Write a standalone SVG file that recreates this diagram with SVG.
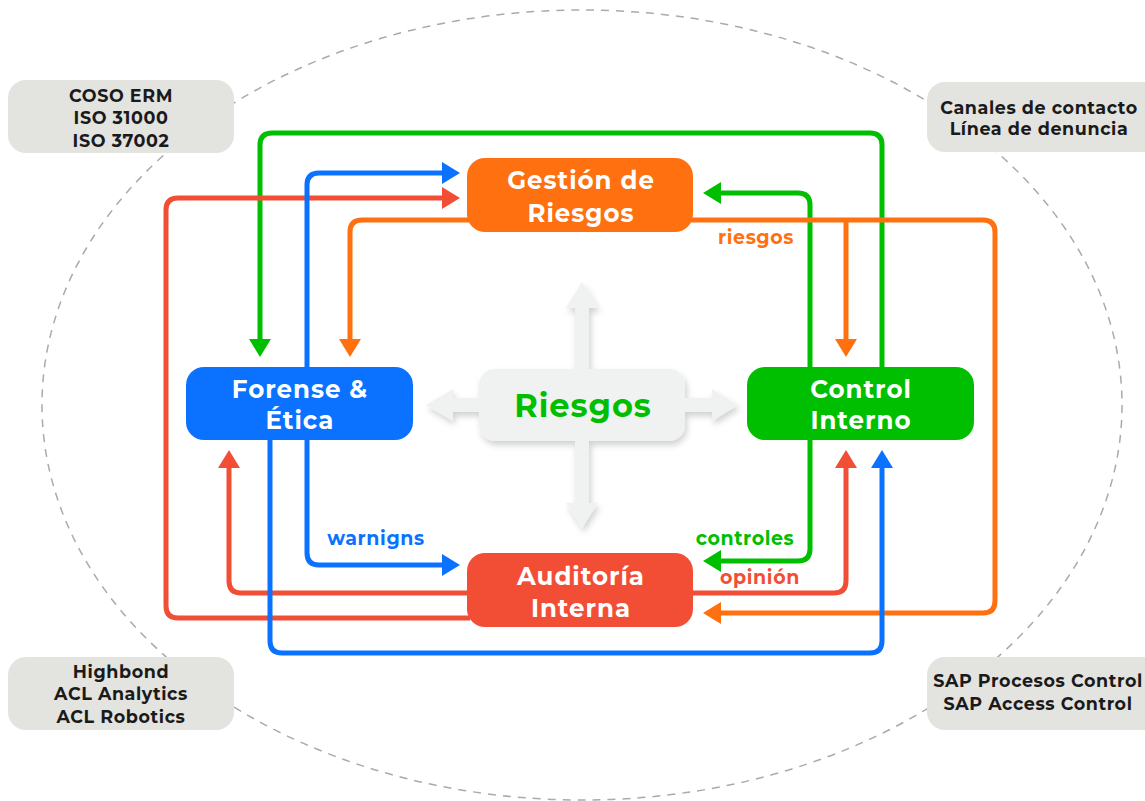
<svg xmlns="http://www.w3.org/2000/svg" width="1145" height="801" viewBox="0 0 1145 801">
<style>
.t{font-family:"Montserrat","Open Sans","Liberation Sans",sans-serif;font-weight:700;text-anchor:middle}
.nt{font-size:24.5px;fill:#fff;letter-spacing:1px}
.gt{font-size:17.5px;fill:#1a1a1a;letter-spacing:0.6px}
.lb{font-size:19px;letter-spacing:0.6px}
.gb{fill:#E3E3E0}
.c{fill:none;stroke-width:5;stroke-linejoin:round}
.g{stroke:#00BF00}.o{stroke:#FF7010}.r{stroke:#F24E36}.b{stroke:#0A72FF}
.ga{fill:#F0F1F1}
</style>
<defs>
<filter id="sh" x="-20%" y="-20%" width="140%" height="150%">
<feDropShadow dx="2" dy="4" stdDeviation="3" flood-color="#000" flood-opacity="0.18"/>
</filter>
<marker id="mg" markerUnits="userSpaceOnUse" markerWidth="20" markerHeight="24" refX="2" refY="11" orient="auto"><path d="M0,0 L18,11 L0,22 z" fill="#00BF00"/></marker>
<marker id="mo" markerUnits="userSpaceOnUse" markerWidth="20" markerHeight="24" refX="2" refY="11" orient="auto"><path d="M0,0 L18,11 L0,22 z" fill="#FF7010"/></marker>
<marker id="mr" markerUnits="userSpaceOnUse" markerWidth="20" markerHeight="24" refX="2" refY="11" orient="auto"><path d="M0,0 L18,11 L0,22 z" fill="#F24E36"/></marker>
<marker id="mb" markerUnits="userSpaceOnUse" markerWidth="20" markerHeight="24" refX="2" refY="11" orient="auto"><path d="M0,0 L18,11 L0,22 z" fill="#0A72FF"/></marker>
</defs>
<rect width="1145" height="801" fill="#fff"/>
<ellipse cx="582" cy="405" rx="540" ry="395" fill="none" stroke="#AAAAAA" stroke-width="1.5" stroke-dasharray="8 7"/>

<g id="tools">
<g id="coso"><rect class="gb" x="8" y="80" width="226" height="73" rx="18"/>
<text class="t gt" x="121" y="102">COSO ERM</text><text class="t gt" x="121" y="124">ISO 31000</text><text class="t gt" x="121" y="147">ISO 37002</text></g>
<g id="canales"><rect class="gb" x="927" y="82" width="240" height="70" rx="18"/>
<text class="t gt" x="1039" y="114">Canales de contacto</text><text class="t gt" x="1039" y="135">Línea de denuncia</text></g>
<g id="highbond"><rect class="gb" x="8" y="657" width="226" height="73" rx="18"/>
<text class="t gt" x="121" y="678">Highbond</text><text class="t gt" x="121" y="700">ACL Analytics</text><text class="t gt" x="121" y="723">ACL Robotics</text></g>
<g id="sap"><rect class="gb" x="927" y="657" width="240" height="73" rx="18"/>
<text class="t gt" x="1038" y="687">SAP Procesos Control</text><text class="t gt" x="1038" y="710">SAP Access Control</text></g>
</g>

<g id="connectors">
<path class="c g" d="M882,367 V145 Q882,133 870,133 H272 Q260,133 260,145 V341" marker-end="url(#mg)"/>
<path class="c g" d="M810,367 V205 Q810,193 798,193 H719" marker-end="url(#mg)"/>
<path class="c g" d="M810,440 V549 Q810,561 798,561 H719" marker-end="url(#mg)"/>
<path class="c o" d="M470,220 H362 Q350,220 350,232 V341" marker-end="url(#mo)"/>
<path class="c o" d="M690,220 H983 Q995,220 995,232 V601 Q995,613 983,613 H719" marker-end="url(#mo)"/>
<path class="c o" d="M846,220 V341" marker-end="url(#mo)"/>
<path class="c r" d="M470,618 H178 Q166,618 166,606 V210 Q166,198 178,198 H444" marker-end="url(#mr)"/>
<path class="c r" d="M470,593 H241 Q229,593 229,581 V466" marker-end="url(#mr)"/>
<path class="c r" d="M690,593 H834 Q846,593 846,581 V466" marker-end="url(#mr)"/>
<path class="c b" d="M307,367 V185 Q307,173 319,173 H444" marker-end="url(#mb)"/>
<path class="c b" d="M307,440 V553 Q307,565 319,565 H444" marker-end="url(#mb)"/>
<path class="c b" d="M270,440 V641 Q270,653 282,653 H870 Q882,653 882,641 V466" marker-end="url(#mb)"/>
<text class="t lb" x="756" y="244" fill="#FF7010">riesgos</text>
<text class="t lb" x="376" y="545" fill="#0A72FF">warnigns</text>
<text class="t lb" x="745" y="545" fill="#00BF00">controles</text>
<text class="t lb" x="760" y="584" fill="#F24E36">opinión</text>
</g>

<g id="riesgos" filter="url(#sh)">
<polygon class="ga" points="575,372 575,308 566,308 582,282 598,308 589,308 589,372"/>
<polygon class="ga" points="575,438 575,503 566,503 582,528 598,503 589,503 589,438"/>
<polygon class="ga" points="482,398 453,398 453,389 426,405 453,421 453,412 482,412"/>
<polygon class="ga" points="682,398 712,398 712,389 738,405 712,421 712,412 682,412"/>
<rect class="ga" x="479" y="369" width="206" height="72" rx="16"/>
</g>
<text class="t" x="583" y="417" font-size="32" letter-spacing="1" fill="#00BF00">Riesgos</text>

<g id="gestion"><rect x="467" y="158" width="226" height="74" rx="18" fill="#FF7010"/>
<text class="t nt" x="581" y="189">Gestión de</text><text class="t nt" x="581" y="222">Riesgos</text></g>
<g id="forense"><rect x="186" y="367" width="227" height="73" rx="18" fill="#0A72FF"/>
<text class="t nt" x="300" y="398">Forense &amp;</text><text class="t nt" x="300" y="429">Ética</text></g>
<g id="control"><rect x="747" y="367" width="227" height="73" rx="18" fill="#00BF00"/>
<text class="t nt" x="861" y="398">Control</text><text class="t nt" x="861" y="429">Interno</text></g>
<g id="auditoria"><rect x="467" y="553" width="226" height="74" rx="18" fill="#F24E36"/>
<text class="t nt" x="581" y="585">Auditoría</text><text class="t nt" x="581" y="617">Interna</text></g>
</svg>
